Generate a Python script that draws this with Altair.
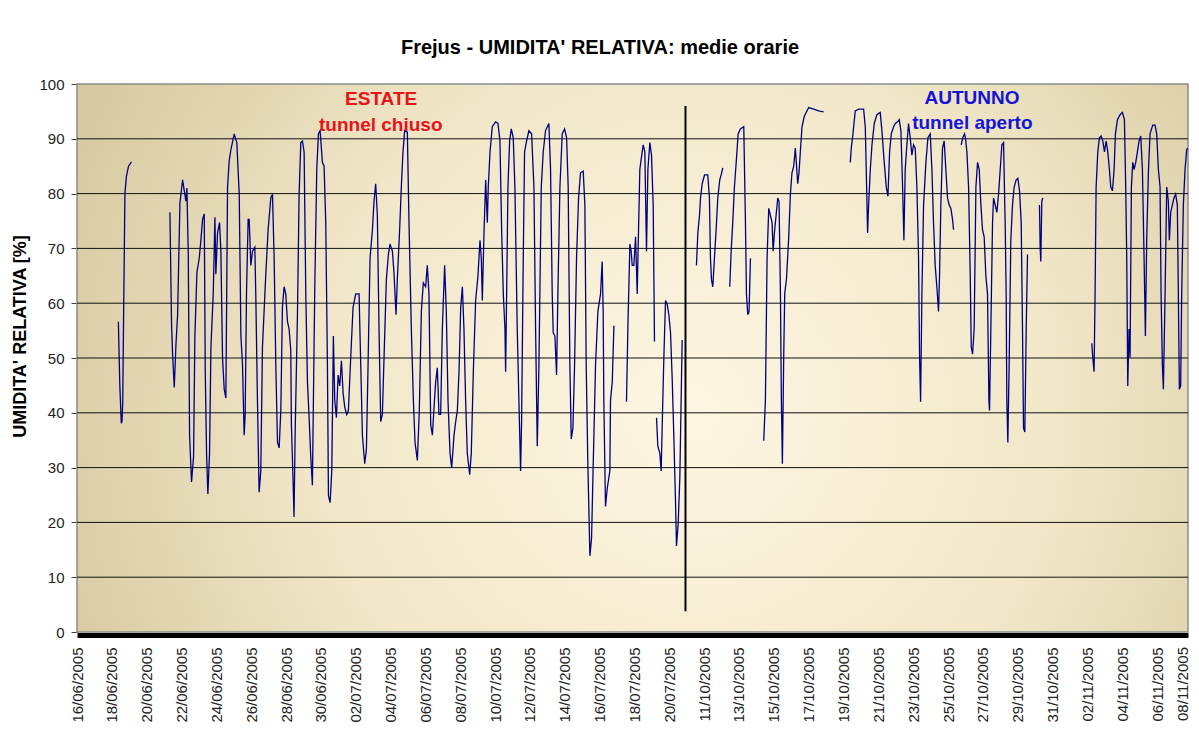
import altair as alt
import pandas as pd

TITLE = "Frejus - UMIDITA' RELATIVA: medie orarie"
Y_TITLE = "UMIDITA' RELATIVA [%]"

# x tick labels: one label every 48 hourly categories
tick_labels = [
    "16/06/2005", "18/06/2005", "20/06/2005", "22/06/2005", "24/06/2005", "26/06/2005",
    "28/06/2005", "30/06/2005", "02/07/2005", "04/07/2005", "06/07/2005", "08/07/2005",
    "10/07/2005", "12/07/2005", "14/07/2005", "16/07/2005", "18/07/2005", "20/07/2005",
    "11/10/2005", "13/10/2005", "15/10/2005", "17/10/2005", "19/10/2005", "21/10/2005",
    "23/10/2005", "25/10/2005", "27/10/2005", "29/10/2005", "31/10/2005", "02/11/2005",
    "04/11/2005", "06/11/2005", "08/11/2005",
]
hours_per_label = 48
n_categories = 1530.6  # hourly categories shown on the axis

# hourly relative humidity (category index in hours, value in %)
seg1_h = [57, 59, 61, 62, 63, 64, 66, 68, 71, 75]
seg1_v = [56.6, 45, 38.1, 38.4, 42, 55, 79.9, 83.1, 85, 85.8]

seg2_h = [128, 130.3, 131.7, 134, 136.3, 138.6, 141.8, 145.5, 147.8, 150, 151.4, 153.3, 155.1,
          157.8, 160.6, 162.4, 165.2, 168.4, 170.7, 173, 175.3, 176.7, 178.5, 180.3, 182.6,
          184.5, 187.7, 190, 191.3, 193.6, 196.4, 198.2, 200.5, 202.8, 205.1, 207.4, 209.7,
          212, 216.6, 220.2, 223.5, 225.8, 228, 230.3, 231.7, 233.5, 235.8,
          237.2, 239.5, 241.8, 245, 246.3, 248.6, 250.9, 253.2, 255.5, 260, 263.3, 267, 269.3,
          271.6, 273.9, 276.2, 278.5, 280.8, 283, 285.3, 287.6, 290, 292.2, 294.5, 295.4,
          297.7, 299, 300.5, 303.7, 306, 308.3, 310.6, 312.9, 315.2, 317.5, 319.8, 322, 324.3,
          325.7, 327.6, 330.3, 332.6, 334.9, 338.1, 340.4, 342.7, 345, 346.4, 348.7, 351,
          353.2, 355.1, 357.4, 359.7, 362, 364.3, 366.6, 368.9, 371.6, 373.9, 377.1, 380.3,
          384, 388.6, 390.9, 393.2, 396.4, 398.7, 401, 403.7, 407, 409.2, 411.5, 413.8, 416.1,
          418.4, 420.7, 423, 426.2, 429, 431.2, 434.5, 436.7, 439.5, 441.3, 444.5, 446.8,
          449.1, 451.4, 455.1, 457.4, 460.6, 463.4, 465.7, 468.9, 471.6, 474.4, 477.1, 480.3,
          482.6, 484.9,
          487.3, 489.6, 491.9, 494.1, 496.4, 498.7, 501, 503.3, 506.5, 508.8, 511.1, 513.9,
          516.2, 519.4, 521.7, 524, 526.3, 528.6, 530.9, 533.1, 535.4, 537.7, 541, 543.2, 546,
          549.2, 552.4, 555.2, 557, 558.4, 560.7, 563, 565.3, 566.6, 569, 572.1, 576.7, 580,
          582.7, 585, 587.3, 589.6, 590.5, 591.9, 593.7, 596, 598.3, 601, 603.3, 606.5, 608.8,
          611.1, 612.5, 614.8, 616.6, 619.4, 622.6, 626.3, 629.5, 631.8, 634.1, 636.4, 639.6,
          642.3, 645.5, 650.1, 652.4, 654.7, 656.1, 658.4, 660.7, 662.5, 665.3, 668.5, 671.7,
          674.5, 676.7, 679, 680.9, 683.2, 685.5, 688.2, 691, 693.7, 697.4, 699.7, 701.5,
          703.8, 706.6, 708.9, 711.2, 714.4, 717.6, 721.3, 723.5, 724.9, 725.8, 728.1, 730.4,
          734.1, 735, 737.4, 739.7]
seg2_v = [76.6, 55.9, 50.7, 44.6, 52.4, 57.9, 78.3, 82.5, 80.5, 78.6, 81, 68.9, 35.9,
          27.4, 32, 54, 65.6, 68.2, 71.5, 75.3, 76.3, 47.5, 32.6, 25.2, 32.6,
          52, 61.7, 75.7, 65.3, 72.8, 74.7, 69.5, 50, 44.3, 42.7, 81.2, 86,
          88, 90.9, 89.3, 79.9, 54, 48.8, 35.9, 39.7, 61.7, 75.3,
          75.3, 66.9, 69.5, 70.2, 61.7, 42.3, 25.5, 29.4, 52, 65, 73.4, 79.2, 79.9,
          68.2, 48.8, 34.6, 33.6, 40.4, 59.2, 63, 61.7, 56.6, 55.3, 51.4, 37.8,
          27.4, 21, 35.9, 57.9, 79.9, 89.3, 89.6, 87.6, 61.7, 45.6, 39.1, 32, 26.8,
          42.3, 63, 84.4, 90.9, 91.5, 85.7, 85, 74.7, 48.8, 24.9, 23.6, 29.4,
          54, 42.3, 39.1, 46.9, 44.9, 49.5, 43.6, 41, 39.7, 40.4, 50.1, 59.2,
          61.7, 61.7, 48.8, 35.9, 30.7, 33.3, 48.8, 68.2, 73.4, 78.6, 81.8, 76, 55.3,
          38.4, 39.7, 50.1, 64.3, 68.9, 70.8, 69.5, 65.6, 57.9, 64.3, 73.4, 81.2,
          87.6, 91.5, 91.2, 74.7, 55.3, 42.3, 34.6, 31.3, 40.4, 58.5, 63.7, 63,
          66.9, 61.7,
          37.8, 35.9, 41, 45.6, 48.2, 39.7, 39.7, 55.3, 66.9, 58.5, 42.3, 32.6,
          30, 35.9, 38.4, 40.4, 47.5, 59.2, 63, 55.3, 42.3, 32.6, 28.7, 32.6, 47.5,
          60.5, 65, 71.5, 68.2, 60.5, 72.8, 82.5, 74.7, 81.2, 87.6, 92.2, 93.1, 92.8,
          89.6, 73.4, 61.7, 55.3, 47.5, 61.7, 81.2, 89.6, 91.8, 90.2, 81.2, 55.3, 42.3,
          29.4, 38.4, 68.2, 87.6, 89.6, 91.5, 90.9, 81.2, 55.3, 33.9, 48.8, 81.2,
          87.6, 91.5, 92.8, 84.4, 61.7, 54.6, 54, 46.9, 61.7, 81.2, 90.9, 91.8,
          90.2, 81.2, 48.8, 35.2, 37.2, 48.8, 68.2, 79.2, 83.8, 84.1, 77.9, 48.8,
          30.7, 13.9, 17.1, 30.7, 48.8, 58.5, 61.7, 67.6, 58.5, 42.3, 22.9, 26.1,
          29.4, 42.3, 45.6, 55.9]

seg3_h = [757, 759, 761.7, 763.5, 764.9, 767.2, 769.5, 771.8, 773.1, 775.4, 777.3, 780, 782.3,
          784.6, 786.5, 789.2, 791.5, 793.8, 795.6]
seg3_v = [42, 55.9, 70.8, 69.5, 66.9, 66.9, 72.1, 61.7, 70.2, 84.4, 86.3, 88.9, 87.6,
          69.5, 84.4, 89.3, 87, 77.9, 53]

seg4_h = [798.4, 800.2, 803, 804.8, 806.6, 808.5, 810.8, 813.1, 815.4, 817.7, 820, 822.2, 824.5,
          825.9, 828.2, 830.5, 832.3, 833.7]
seg4_v = [39.1, 33.9, 32.6, 29.4, 39.7, 50.1, 60.5, 59.8, 57.9, 54.6, 46.2, 35.9, 24.2,
          15.7, 19.7, 28.1, 42.3, 53.3]

seg5_h = [853.4, 855.3, 857.6, 859, 861.3, 864.5, 869, 871.3, 872.7, 874.1, 875.9, 878.2, 880.5,
          882.8, 885.5, 887.4, 889.7]
seg5_v = [66.9, 72.8, 76, 79.2, 81.8, 83.4, 83.4, 79.2, 68.2, 64.3, 63, 68.2, 73.4,
          79.2, 82.5, 83.4, 84.7]

seg6_h = [899.3, 901.2, 903.4, 905.7, 908.5, 910.8, 914, 918.6, 920.9, 922.3, 924.1, 925.9, 927.8]
seg6_v = [63, 69.5, 74.7, 81.2, 86.3, 90.9, 91.8, 92.2, 74.7, 61.7, 57.9, 58.5, 68.2]

seg7_h = [946.1, 948.4, 950.7, 953, 955.3, 957.6, 959, 960.8, 963.1, 965.4, 967.2, 969.1, 970.4,
          971.8, 973.6, 975, 977.5, 980.5, 982.8, 985, 987.4, 989.6, 991, 992.9, 994.7, 996.5,
          998.8, 1002, 1008, 1014.9, 1021.8, 1028.6]
seg7_v = [34.9, 42.3, 68.2, 77.3, 76, 74.7, 69.5, 72.8, 76, 79.2, 78.6, 61.7, 42.3,
          30.7, 50, 61.7, 64.5, 72, 79.9, 83.8, 85, 88.3, 85.7, 81.8, 83.8, 87.6,
          92.2, 94.1, 95.7, 95.4, 95.1, 94.9]

seg8_h = [1065.3, 1066.7, 1069, 1072.2, 1076.8, 1083.7, 1086, 1087.4, 1089.2, 1090.6, 1092.9,
          1095.2, 1098.4, 1102, 1106.6, 1108.9, 1112.1, 1114.9, 1117.2, 1119.5, 1121.8, 1125,
          1127.3, 1130.5, 1132.8, 1135.1, 1137.4, 1139.2, 1141, 1143.3, 1145.6, 1147.9, 1150.2,
          1152.5, 1154.8, 1157.1, 1159.4, 1160.8, 1162.2, 1164, 1166.3, 1169.5, 1172.3, 1175.5,
          1177.8, 1180, 1182.3, 1184.6, 1186.9, 1188.3, 1190.1, 1192.4, 1194.7, 1197, 1199.3,
          1201.6, 1203.9, 1206.2, 1207.6]
seg8_v = [85.7, 88.3, 90.9, 95.1, 95.4, 95.4, 92.2, 83.8, 72.8, 78, 84.4,
          88.9, 92.8, 94.4, 94.8, 91.5, 85.7, 81.2, 79.5, 87.6, 90.9, 92.2,
          92.8, 93.1, 93.5, 91.5, 81.2, 71.5, 84.4, 88.9, 92.8, 90.2, 87,
          88.9, 88.3, 81.2, 68.2, 50.1, 42, 61.7, 77.9, 85.7, 90.2, 90.9,
          84.4, 74.7, 66.9, 63, 58.5, 65, 77.9, 88.3, 89.6, 84.4, 79.2,
          77.9, 77.3, 75.3, 73.4]

seg9_h = [1218.1, 1220.4, 1222.7, 1224, 1226, 1228.3, 1230.6, 1232, 1233.8, 1236, 1238.4, 1240.7,
          1243, 1245.3, 1247.5, 1249.8, 1252.1, 1254.4, 1256.3, 1257.2, 1259, 1261.3, 1262.7,
          1265, 1267.3, 1269.6, 1271.9, 1274.2, 1276.5, 1278.7, 1280.1, 1281, 1282.4, 1284.2,
          1286.5, 1288.8, 1291.1, 1293.9, 1296.2, 1298.5, 1300.8, 1302.6, 1304, 1305.8, 1307.7,
          1309.5]
seg9_v = [88.9, 90.2, 90.9, 90.2, 87.6, 81.2, 65, 52, 50.7, 55.3, 81.2, 85.7,
          84.4, 77.9, 73.4, 72.1, 65, 61.7, 42.3, 40.4, 55.3, 74.7, 79.2,
          77.9, 76.6, 79.9, 84.4, 88.9, 89.3, 74.7, 61.7, 42.3, 34.6, 48.8,
          71.5, 77.9, 81.2, 82.5, 82.8, 80.5, 74.7, 55.3, 37.2, 36.5, 55.3,
          68.9]

seg10_h = [1326, 1326.9, 1327.8, 1329.2, 1330.6]
seg10_v = [77.9, 70.2, 67.6, 78.6, 79.2]

seg11_h = [1398, 1399.4, 1401.2, 1402.6, 1404, 1406.3, 1408.6, 1410.9, 1413.2, 1415.5, 1417.8,
           1420.1, 1422.3, 1424.2, 1426.5, 1428.8, 1430.6, 1433.4, 1437, 1440.2, 1443, 1444.8,
           1446.2, 1447.6, 1449.4, 1450.8, 1452.6, 1454.5, 1456.3, 1458.6, 1460.9, 1463.2,
           1465.5, 1467.8, 1470.1, 1471.9, 1473.7, 1476, 1478.3, 1482, 1485.2, 1487.5, 1489.8,
           1492.1, 1493.5, 1495.3, 1496.7, 1499, 1501.3, 1503.5, 1504.9, 1506.8, 1509, 1511.3,
           1513.6, 1515.9, 1517.3, 1518.7, 1520.5, 1521.9, 1524.2, 1526.5, 1528.8, 1530.2]
seg11_v = [52.7, 50.1, 47.5, 61.7, 81.2, 87.6, 90.2, 90.5, 89.6, 87.6, 89.6,
           87.6, 84.4, 81.2, 80.5, 84.4, 90.9, 93.5, 94.4, 94.8, 93.5, 81.2,
           68.2, 44.9, 55.3, 50.1, 81.2, 85.7, 84.4, 85.7, 87.6, 89.6,
           90.5, 84.4, 68.2, 54, 71.5, 83.8, 90.9, 92.5, 92.5, 90.9, 84.4,
           81.2, 61.7, 48.8, 44.3, 61.7, 81.2, 78.6, 71.5, 76.6, 77.9, 79.2,
           79.9, 77.9, 61.7, 44.3, 44.9, 61.7, 77.9, 84.4, 88, 88.3]

segments = [(seg1_h, seg1_v), (seg2_h, seg2_v), (seg3_h, seg3_v), (seg4_h, seg4_v),
            (seg5_h, seg5_v), (seg6_h, seg6_v), (seg7_h, seg7_v), (seg8_h, seg8_v),
            (seg9_h, seg9_v), (seg10_h, seg10_v), (seg11_h, seg11_v)]

grid_values = [10, 20, 30, 40, 50, 60, 70, 80, 90]

# season separator (category position, bottom, top) and season labels
sep_hour = [838.3]
sep_low = [3.8]
sep_high = [96]
note_text = ["ESTATE", "tunnel chiuso", "AUTUNNO", "tunnel aperto"]
note_hour = [419, 418.5, 1233, 1233.5]
note_value = [96.1, 91.4, 96.3, 91.8]
note_color = ["#E8121A", "#E8121A", "#1414D8", "#1414D8"]

# ---------------------------------------------------------------------------
rows = []
for i, (hs, vs) in enumerate(segments):
    for h, v in zip(hs, vs):
        rows.append({"h": h, "rh": v, "seg": i})
df = pd.DataFrame(rows)

W, H = 1111, 548
FONT = "Liberation Sans"

xscale = alt.Scale(domain=[0, n_categories], nice=False, zero=False)
yscale = alt.Scale(domain=[0, 100], nice=False)

label_array = "[" + ",".join("'%s'" % t for t in tick_labels) + "]"
tick_vals = [i * hours_per_label for i in range(len(tick_labels))]
inside = [v for v in tick_vals if v <= n_categories]
# the last category label sits right on the plot's edge (past the last hourly category)
edge_ticks = pd.DataFrame({"h": [v for v in tick_vals if v > n_categories],
                           "t": [t for v, t in zip(tick_vals, tick_labels) if v > n_categories]})

x_axis = alt.Axis(values=inside,
                  labelExpr=label_array + "[round(datum.value / %d)]" % hours_per_label,
                  labelAngle=270, labelAlign="right", labelBaseline="middle",
                  labelPadding=12, ticks=False, grid=False,
                  domainWidth=5, domainColor="#000000", offset=3,
                  labelFont=FONT, labelFontSize=15, labelColor="#222222",
                  labelOverlap=False, labelBound=False, labelFlush=False, title=None)
y_axis = alt.Axis(values=[0, 10, 20, 30, 40, 50, 60, 70, 80, 90, 100], grid=False,
                  tickSize=6, tickColor="#404040", domainColor="#404040",
                  labelFont=FONT, labelFontSize=15, labelColor="#222222",
                  labelPadding=7,
                  title=Y_TITLE, titleFont=FONT, titleFontSize=18,
                  titleFontWeight="bold", titleColor="#000000",
                  titleAngle=270, titleX=-57, titleY=252,
                  titleAlign="center", titleBaseline="middle")

background = alt.Chart(pd.DataFrame({"a": [0]})).mark_rect(
    fill=alt.RadialGradient(
        gradient="radial",
        x1=0.55, y1=0.55, r1=0.0, x2=0.55, y2=0.55, r2=0.75,
        stops=[alt.GradientStop(offset=0, color="#FDF6E2"),
               alt.GradientStop(offset=0.45, color="#F1E7C8"),
               alt.GradientStop(offset=1, color="#C9B98B")],
    ),
    stroke="#8C8C8C", strokeWidth=1.5,
).encode(x=alt.value(0), x2=alt.value(W), y=alt.value(0), y2=alt.value(H))

grid = alt.Chart(pd.DataFrame({"rh": grid_values})).mark_rule(
    color="#111111", strokeWidth=1
).encode(y=alt.Y("rh:Q", scale=yscale, axis=y_axis))

line = alt.Chart(df).mark_line(color="#000080", strokeWidth=1.3, clip=True).encode(
    x=alt.X("h:Q", scale=xscale, axis=x_axis),
    y=alt.Y("rh:Q", scale=yscale, axis=y_axis),
    detail="seg:N",
)

sep = alt.Chart(pd.DataFrame({"h": sep_hour, "rh": sep_low, "hi": sep_high})).mark_rule(
    color="#000000", strokeWidth=2
).encode(x=alt.X("h:Q", scale=xscale, axis=x_axis),
         y=alt.Y("rh:Q", scale=yscale, axis=y_axis), y2="hi:Q")

notes = alt.Chart(pd.DataFrame({"t": note_text, "h": note_hour, "rh": note_value,
                                "c": note_color})).mark_text(
    font=FONT, fontSize=19, fontWeight="bold", align="center", baseline="alphabetic"
).encode(x=alt.X("h:Q", scale=xscale, axis=x_axis),
         y=alt.Y("rh:Q", scale=yscale, axis=y_axis),
         text="t:N", color=alt.Color("c:N", scale=None))

# rotated text: dy moves it sideways on screen (negative = to the left)
edge_label = alt.Chart(edge_ticks).mark_text(
    font=FONT, fontSize=15, color="#222222", angle=270, align="right", baseline="middle",
    dy=-9
).encode(x=alt.X("h:Q", scale=xscale, axis=x_axis), y=alt.value(H + 15), text="t:N")

title = alt.Chart(pd.DataFrame({"t": [TITLE]})).mark_text(
    font=FONT, fontSize=20, fontWeight="bold", align="center", baseline="middle",
    color="#000000"
).encode(x=alt.value(523), y=alt.value(-36), text="t:N")

chart = alt.layer(background, grid, line, sep, notes, edge_label, title).properties(
    width=W, height=H,
    autosize=alt.AutoSizeParams(type="none"),
    padding={"left": 69, "top": 76, "right": 3, "bottom": 91},
    background="#FFFFFF",
).configure_view(stroke=None)

chart.save("out.html", embed_options={"renderer": "svg", "actions": False})
